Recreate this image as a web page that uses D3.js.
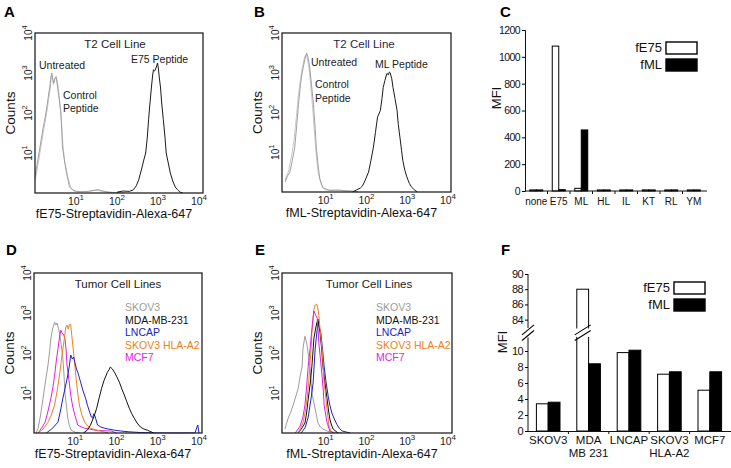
<!DOCTYPE html>
<html><head><meta charset="utf-8">
<script src="https://cdn.jsdelivr.net/npm/d3@7"></script>
<style>
body{margin:0;background:#fff}
svg{display:block}
text{font-family:Arial,"Liberation Sans",Helvetica,sans-serif}
</style>
</head><body>
<svg id="chart" width="731" height="468"></svg>
<script>
// ---------------- DATA ----------------
// Histogram axes are log decades: values are [log10 intensity, log10 counts]
const decadeTicks = [1, 2, 3, 4];

// Panel A: T2 cells, fE75 staining
const aUntreated = [[0,0.4],[0.07,0.83],[0.13,1.2],[0.19,1.58],[0.25,1.9],[0.29,2.15],[0.33,2.45],[0.36,2.65],[0.39,2.9],[0.41,3.0],[0.43,2.85],[0.46,2.75],[0.49,2.88],[0.51,2.9],[0.53,2.8],[0.55,2.65],[0.59,2.35],[0.63,2.0],[0.65,1.6],[0.67,1.15],[0.72,0.8],[0.77,0.5],[0.84,0.15],[0.95,0.05],[1.1,0.03],[1.3,0.04],[1.45,0.07],[1.55,0.08],[1.65,0.05],[1.8,0.02],[2.0,0.01],[2.2,0]];
const aControl = [[0,0.3],[0.08,0.75],[0.2,1.5],[0.3,2.1],[0.37,2.6],[0.4,2.95],[0.42,2.9],[0.45,2.7],[0.48,2.85],[0.52,2.92],[0.56,2.7],[0.6,2.3],[0.64,1.9],[0.68,1.2],[0.73,0.75],[0.8,0.4],[0.88,0.12],[1.0,0.04],[1.3,0.04],[1.5,0.07],[1.7,0.03],[2.0,0]];
const aE75 = [[2.0,0.02],[2.15,0.05],[2.3,0.04],[2.4,0.08],[2.47,0.18],[2.53,0.33],[2.6,0.6],[2.66,0.85],[2.7,1.0],[2.74,1.4],[2.77,1.83],[2.8,2.2],[2.84,2.65],[2.87,2.95],[2.89,3.08],[2.92,3.05],[2.96,3.15],[2.99,3.25],[3.01,3.1],[3.03,2.9],[3.06,2.65],[3.09,2.25],[3.13,1.83],[3.17,1.4],[3.2,1.0],[3.25,0.75],[3.3,0.5],[3.36,0.3],[3.42,0.15],[3.48,0.08],[3.54,0.02],[3.6,0]];

// Panel B: T2 cells, fML staining
const bUntreated = [[0,0.25],[0.06,0.4],[0.12,0.5],[0.18,0.8],[0.24,1.13],[0.29,1.7],[0.33,2.2],[0.38,2.7],[0.42,3.0],[0.46,3.2],[0.5,3.4],[0.53,3.5],[0.56,3.4],[0.6,3.2],[0.65,2.7],[0.7,2.2],[0.74,1.6],[0.77,1.1],[0.81,0.7],[0.85,0.35],[0.93,0.1],[1.1,0.04],[1.3,0.05],[1.5,0.03],[1.7,0.02],[1.8,0]];
const bControl = [[0,0.3],[0.08,0.5],[0.16,0.9],[0.22,1.3],[0.28,1.9],[0.33,2.45],[0.38,2.85],[0.43,3.15],[0.48,3.4],[0.52,3.45],[0.55,3.35],[0.59,3.1],[0.63,2.7],[0.68,2.1],[0.73,1.4],[0.77,0.9],[0.82,0.45],[0.9,0.15],[1.0,0.05],[1.3,0.04],[1.6,0.02],[1.8,0]];
const bML = [[1.66,0],[1.75,0.05],[1.85,0.1],[1.9,0.15],[1.97,0.3],[2.05,0.5],[2.11,0.8],[2.17,1.13],[2.22,1.5],[2.27,1.88],[2.34,2.05],[2.38,2.35],[2.41,2.63],[2.45,2.8],[2.5,2.98],[2.54,2.95],[2.56,3.02],[2.58,3.0],[2.62,2.85],[2.65,2.63],[2.7,2.35],[2.75,2.05],[2.78,1.7],[2.82,1.38],[2.86,1.05],[2.89,0.8],[2.94,0.55],[2.99,0.38],[3.05,0.22],[3.1,0.13],[3.18,0.05],[3.25,0]];

// Panel D: tumor cell lines, fE75
const dSKOV3 = [[0.05,0],[0.1,0.12],[0.16,0.45],[0.22,0.87],[0.28,1.3],[0.34,1.7],[0.38,2.05],[0.41,2.37],[0.45,2.6],[0.5,2.77],[0.53,2.7],[0.56,2.75],[0.59,2.62],[0.62,2.5],[0.66,2.2],[0.7,1.87],[0.73,1.4],[0.75,1.0],[0.79,0.65],[0.82,0.37],[0.86,0.18],[0.9,0.07],[1.0,0.02],[1.1,0]];
const dMCF7 = [[0.1,0],[0.18,0.12],[0.27,0.27],[0.34,0.55],[0.41,0.87],[0.46,1.15],[0.5,1.45],[0.54,1.8],[0.58,2.1],[0.62,2.4],[0.65,2.57],[0.68,2.5],[0.72,2.45],[0.75,2.37],[0.78,2.05],[0.8,1.7],[0.85,1.3],[0.89,0.95],[0.94,0.65],[0.99,0.45],[1.06,0.2],[1.15,0.15],[1.23,0.12],[1.35,0.1],[1.47,0.07],[1.6,0.06],[1.87,0.05],[2.0,0]];
const dSKOV3A2 = [[0.1,0],[0.22,0.1],[0.34,0.27],[0.42,0.45],[0.5,0.7],[0.56,1.05],[0.62,1.45],[0.66,1.8],[0.7,2.1],[0.74,2.4],[0.77,2.65],[0.8,2.7],[0.83,2.6],[0.86,2.72],[0.89,2.72],[0.91,2.5],[0.94,2.2],[0.98,1.8],[1.02,1.37],[1.06,1.0],[1.1,0.7],[1.16,0.45],[1.23,0.27],[1.3,0.18],[1.37,0.12],[1.5,0.08],[1.6,0.05],[1.8,0]];
const dLNCAP = [[0.3,0],[0.45,0.12],[0.58,0.27],[0.64,0.55],[0.7,0.87],[0.76,1.15],[0.82,1.45],[0.86,1.7],[0.89,1.95],[0.93,1.85],[0.96,1.9],[0.99,1.77],[1.03,1.6],[1.06,1.52],[1.1,1.38],[1.13,1.27],[1.19,1.05],[1.25,0.87],[1.3,0.68],[1.35,0.52],[1.39,0.4],[1.42,0.37],[1.45,0.48],[1.48,0.42],[1.54,0.2],[1.62,0.15],[1.71,0.12],[1.8,0.1],[1.95,0.07],[2.1,0.05],[2.3,0.03],[2.6,0.01],[3.0,0],[3.9,0],[3.97,0.2],[4,0]];
const dMDA = [[1.2,0],[1.3,0.08],[1.37,0.2],[1.45,0.4],[1.52,0.62],[1.58,0.88],[1.64,1.12],[1.7,1.32],[1.78,1.52],[1.82,1.58],[1.85,1.65],[1.9,1.6],[1.95,1.52],[2.0,1.42],[2.07,1.27],[2.13,1.1],[2.19,0.95],[2.25,0.78],[2.31,0.62],[2.37,0.48],[2.43,0.37],[2.5,0.25],[2.58,0.15],[2.66,0.1],[2.75,0.07],[2.9,0]];

// Panel E: tumor cell lines, fML
const eSKOV3 = [[0,0.1],[0.07,0.35],[0.14,0.52],[0.2,0.7],[0.26,0.9],[0.32,1.1],[0.37,1.4],[0.42,1.67],[0.44,2.1],[0.47,2.3],[0.49,2.42],[0.52,2.3],[0.54,2.2],[0.58,1.9],[0.61,1.67],[0.64,1.3],[0.66,1.0],[0.7,0.8],[0.74,0.6],[0.78,0.4],[0.81,0.25],[0.87,0.15],[0.93,0.1],[1.05,0.04],[1.2,0.02],[1.4,0]];
const eSKOV3A2 = [[0.32,0],[0.44,0.25],[0.5,0.55],[0.54,0.85],[0.58,1.25],[0.61,1.67],[0.64,2.1],[0.66,2.5],[0.69,2.85],[0.71,3.1],[0.74,3.2],[0.78,3.22],[0.81,3.1],[0.83,2.93],[0.87,2.5],[0.91,2.1],[0.94,1.65],[0.96,1.25],[1.0,0.9],[1.03,0.6],[1.06,0.35],[1.08,0.17],[1.15,0]];
const eMCF7 = [[0.25,0],[0.37,0.17],[0.44,0.4],[0.49,0.7],[0.53,1.15],[0.57,1.67],[0.62,2.15],[0.66,2.6],[0.69,2.9],[0.71,3.05],[0.75,2.95],[0.79,2.87],[0.81,2.6],[0.83,2.25],[0.87,1.85],[0.91,1.42],[0.94,1.05],[0.96,0.7],[1.0,0.45],[1.03,0.27],[1.1,0.05],[1.2,0]];
const eMDA = [[0.32,0],[0.4,0.1],[0.49,0.25],[0.53,0.5],[0.57,0.85],[0.62,1.25],[0.66,1.67],[0.71,2.37],[0.75,2.6],[0.78,2.75],[0.81,2.85],[0.83,2.7],[0.86,2.5],[0.9,2.1],[0.93,1.67],[0.98,1.25],[1.03,0.87],[1.07,0.55],[1.1,0.35],[1.14,0.2],[1.18,0.1],[1.3,0]];
const eLNCAP = [[0.4,0],[0.5,0.15],[0.57,0.4],[0.63,0.8],[0.69,1.25],[0.74,2.1],[0.78,2.5],[0.81,2.75],[0.84,2.65],[0.88,2.5],[0.92,2.1],[0.96,1.67],[1.01,1.25],[1.06,0.92],[1.1,0.7],[1.15,0.5],[1.21,0.35],[1.27,0.22],[1.33,0.12],[1.4,0.05],[1.6,0]];

// Panel C: MFI of T2 cells pulsed with peptides
const cCategories = ["none","E75","ML","HL","IL","KT","RL","YM"];
const cFE75 = [8, 1080, 20, 8, 8, 8, 8, 8];
const cFML  = [8, 10, 455, 8, 8, 8, 8, 8];
const cTicks = [0, 200, 400, 600, 800, 1000, 1200];

// Panel F: MFI of tumor cell lines (broken axis)
const fCategories = [["SKOV3"],["MDA","MB 231"],["LNCAP"],["SKOV3","HLA-A2"],["MCF7"]];
const fFE75 = [3.4, 88, 9.8, 7.1, 5.1];
const fFML  = [3.6, 8.4, 10.1, 7.4, 7.4];
const fLowTicks = [0, 2, 4, 6, 8, 10];
const fHighTicks = [84, 86, 88, 90];

const cellLegend = [
  {name:"SKOV3", color:"#9c9c9c"},
  {name:"MDA-MB-231", color:"#111111"},
  {name:"LNCAP", color:"#2020c8"},
  {name:"SKOV3 HLA-A2", color:"#f07f22"},
  {name:"MCF7", color:"#e21ee2"}
];

// ---------------- DRAWING ----------------
const svg = d3.select("#chart");

function letter(t, x, y) {
  svg.append("text").attr("x", x).attr("y", y).attr("font-size", 15)
    .attr("font-weight", "bold").text(t);
}

let clipId = 0;
function histPanel(cfg) {
  const g = svg.append("g");
  const x = d3.scaleLinear().domain([0, 4]).range([cfg.xr0, cfg.xr1]);
  const y = d3.scaleLinear().domain([0, 4]).range([cfg.y1, cfg.y0]);
  const id = "clip" + (clipId++);
  svg.append("clipPath").attr("id", id).append("rect")
    .attr("x", cfg.x0).attr("y", cfg.y0).attr("width", cfg.x1 - cfg.x0).attr("height", cfg.y1 - cfg.y0 + 0.5);
  const line = d3.line().x(d => x(d[0])).y(d => y(d[1]));
  const cg = g.append("g").attr("clip-path", `url(#${id})`);
  cfg.series.forEach(s => {
    cg.append("path").attr("d", line(s.data)).attr("fill", "none")
      .attr("stroke", s.color).attr("stroke-width", s.w || 1).attr("stroke-linejoin", "round");
  });
  g.append("rect").attr("x", cfg.x0).attr("y", cfg.y0)
    .attr("width", cfg.x1 - cfg.x0).attr("height", cfg.y1 - cfg.y0)
    .attr("fill", "none").attr("stroke", "#111").attr("stroke-width", 1.2);
  decadeTicks.forEach(d => {
    const t = g.append("text").attr("x", x(d)).attr("y", cfg.y1 + 12)
      .attr("text-anchor", "middle").attr("font-size", 10.5).attr("fill", "#222");
    t.append("tspan").text("10");
    t.append("tspan").attr("dy", -5).attr("font-size", 8).text(d);
  });
  decadeTicks.forEach(d => {
    const t = g.append("text").attr("transform", `translate(${cfg.x0 - 3},${y(d)}) rotate(-90)`)
      .attr("text-anchor", "middle").attr("font-size", 10).attr("fill", "#222");
    t.append("tspan").text("10");
    t.append("tspan").attr("dy", -5).attr("font-size", 7.5).text(d);
  });
  g.append("text").attr("transform", `translate(${cfg.countsX},${(cfg.y0 + cfg.y1) / 2}) rotate(-90)`)
    .attr("text-anchor", "middle").attr("font-size", 13.5).attr("fill", "#111").text("Counts");
  g.append("text").attr("x", (cfg.x0 + cfg.x1) / 2 - 5).attr("y", cfg.y1 + 25)
    .attr("text-anchor", "middle").attr("font-size", 12.5).attr("fill", "#111").text(cfg.xTitle);
  cfg.texts.forEach(t => {
    g.append("text").attr("x", t.x).attr("y", t.y).attr("font-size", t.size || 10.5)
      .attr("text-anchor", t.anchor || "start").attr("fill", t.color || "#222").text(t.text);
  });
  return {x, y};
}

// Panel A
letter("A", 4, 17);
histPanel({
  x0: 35, x1: 203, y0: 33, y1: 193, xr0: 35, xr1: 199, countsX: 15,
  xTitle: "fE75-Streptavidin-Alexa-647",
  series: [
    {data: aControl, color: "#c8c8c8"},
    {data: aUntreated, color: "#a0a0a0"},
    {data: aE75, color: "#1a1a1a"}
  ],
  texts: [
    {text: "T2 Cell Line", x: 115, y: 48, anchor: "middle", size: 11.5},
    {text: "Untreated", x: 39, y: 69},
    {text: "Control", x: 63, y: 99},
    {text: "Peptide", x: 63, y: 112},
    {text: "E75 Peptide", x: 131, y: 63}
  ]
});

// Panel B
letter("B", 254, 17);
histPanel({
  x0: 282, x1: 451, y0: 33, y1: 192, xr0: 285, xr1: 448, countsX: 262,
  xTitle: "fML-Streptavidin-Alexa-647",
  series: [
    {data: bControl, color: "#c8c8c8"},
    {data: bUntreated, color: "#a0a0a0"},
    {data: bML, color: "#1a1a1a"}
  ],
  texts: [
    {text: "T2 Cell Line", x: 364, y: 48, anchor: "middle", size: 11.5, color: "#1f1f4f"},
    {text: "Untreated", x: 311, y: 66},
    {text: "Control", x: 315, y: 88},
    {text: "Peptide", x: 315, y: 102},
    {text: "ML Peptide", x: 375, y: 68}
  ]
});

// Panel D
letter("D", 6, 255);
histPanel({
  x0: 34, x1: 202, y0: 273, y1: 433, xr0: 34, xr1: 199, countsX: 14,
  xTitle: "fE75-Streptavidin-Alexa-647",
  series: [
    {data: dSKOV3, color: cellLegend[0].color},
    {data: dMCF7, color: cellLegend[4].color},
    {data: dSKOV3A2, color: cellLegend[3].color},
    {data: dLNCAP, color: cellLegend[2].color},
    {data: dMDA, color: cellLegend[1].color}
  ],
  texts: [{text: "Tumor Cell Lines", x: 118, y: 288, anchor: "middle", size: 11.5}]
    .concat(cellLegend.map((c, i) => ({text: c.name, x: 125, y: 311 + i * 12.6, color: c.color, size: 10.5})))
});

// Panel E
letter("E", 255, 255);
histPanel({
  x0: 282, x1: 452, y0: 273, y1: 433, xr0: 285, xr1: 448, countsX: 262,
  xTitle: "fML-Streptavidin-Alexa-647",
  series: [
    {data: eSKOV3, color: cellLegend[0].color},
    {data: eLNCAP, color: cellLegend[2].color},
    {data: eMDA, color: cellLegend[1].color},
    {data: eSKOV3A2, color: cellLegend[3].color},
    {data: eMCF7, color: cellLegend[4].color}
  ],
  texts: [{text: "Tumor Cell Lines", x: 369, y: 288, anchor: "middle", size: 11.5}]
    .concat(cellLegend.map((c, i) => ({text: c.name, x: 376, y: 311 + i * 12.6, color: c.color, size: 10.5})))
});

function barLegend(x, y) {
  const items = [{t: "fE75", fill: "#fff"}, {t: "fML", fill: "#000"}];
  items.forEach((it, i) => {
    svg.append("text").attr("x", x - 4).attr("y", y + i * 17 + 10).attr("text-anchor", "end")
      .attr("font-size", 13).attr("fill", "#111").text(it.t);
    svg.append("rect").attr("x", x).attr("y", y + i * 17).attr("width", 31).attr("height", 12)
      .attr("fill", it.fill).attr("stroke", "#000").attr("stroke-width", 1.4);
  });
}

// Panel C
letter("C", 500, 17);
(function() {
  const g = svg.append("g");
  const x = d3.scaleBand().domain(cCategories).range([525, 705]).padding(0);
  const y = d3.scaleLinear().domain([0, 1200]).range([191, 30]);
  const bw = 6.5;
  cCategories.forEach((c, i) => {
    const cx = x(c) + x.bandwidth() / 2;
    g.append("rect").attr("x", cx - bw).attr("y", y(cFE75[i])).attr("width", bw)
      .attr("height", y(0) - y(cFE75[i])).attr("fill", "#fff").attr("stroke", "#000").attr("stroke-width", 1);
    g.append("rect").attr("x", cx).attr("y", y(cFML[i])).attr("width", bw)
      .attr("height", y(0) - y(cFML[i])).attr("fill", "#000").attr("stroke", "#000").attr("stroke-width", 1);
  });
  const ya = g.append("g").attr("transform", "translate(525,0)")
    .call(d3.axisLeft(y).tickValues(cTicks).tickFormat(d3.format("d")).tickSize(3).tickPadding(2));
  ya.select(".domain").attr("stroke", "#111");
  ya.selectAll("text").attr("font-size", 10.5).attr("fill", "#111").attr("letter-spacing", -0.6)
    .attr("font-family", "Arial, 'Liberation Sans', sans-serif");
  const xa = g.append("g").attr("transform", "translate(0,191)")
    .call(d3.axisBottom(x).tickSize(0).tickPadding(7));
  xa.select(".domain").attr("stroke", "#111").attr("d", "M525,0H707");
  xa.selectAll("text").attr("font-size", 10).attr("fill", "#111").attr("font-family", "Arial, 'Liberation Sans', sans-serif");
  cCategories.slice(1).forEach(c => {
    g.append("line").attr("x1", x(c)).attr("x2", x(c)).attr("y1", 191).attr("y2", 194).attr("stroke", "#111");
  });
  g.append("text").attr("transform", "translate(501,98) rotate(-90)").attr("text-anchor", "middle")
    .attr("font-size", 13).attr("fill", "#111").text("MFI");
  barLegend(666, 42);
})();

// Panel F (broken y axis)
letter("F", 501, 255);
(function() {
  const g = svg.append("g");
  const x = d3.scaleBand().domain(fCategories.map(d => d.join(" "))).range([528, 730]).padding(0);
  const yLow = d3.scaleLinear().domain([0, 11.7]).range([431, 337.4]);
  const yHigh = d3.scaleLinear().domain([82.9, 90]).range([328, 274]);
  const bw = 11.8;
  const lowMax = yLow.domain()[1], highMin = yHigh.domain()[0];
  function drawBar(x0, v, fill) {
    if (v <= lowMax) {
      g.append("rect").attr("x", x0).attr("y", yLow(v)).attr("width", bw).attr("height", yLow(0) - yLow(v))
        .attr("fill", fill).attr("stroke", "#000").attr("stroke-width", 1);
    } else {
      g.append("rect").attr("x", x0).attr("y", yLow(lowMax)).attr("width", bw).attr("height", yLow(0) - yLow(lowMax))
        .attr("fill", fill).attr("stroke", "#000").attr("stroke-width", 1);
      g.append("rect").attr("x", x0).attr("y", yHigh(v)).attr("width", bw).attr("height", yHigh(highMin) - yHigh(v))
        .attr("fill", fill).attr("stroke", "#000").attr("stroke-width", 1);
      g.append("rect").attr("x", x0 + 0.5).attr("y", yHigh(highMin) - 1).attr("width", bw - 1)
        .attr("height", yLow(lowMax) - yHigh(highMin) + 2).attr("fill", fill);
      breakMark(x0 + bw / 2, 8);
    }
  }
  function breakMark(cx, half) {
    const ym = (yHigh(highMin) + yLow(lowMax)) / 2;
    [-2.8, 2.8].forEach(off => {
      g.append("line").attr("x1", cx - half).attr("y1", ym + off + 5)
        .attr("x2", cx + half).attr("y2", ym + off - 5).attr("stroke", "#000").attr("stroke-width", 1.1);
    });
  }
  fCategories.forEach((c, i) => {
    const cx = x(c.join(" ")) + x.bandwidth() / 2;
    drawBar(cx - bw, fFE75[i], "#fff");
    drawBar(cx, fFML[i], "#000");
  });
  const yaL = g.append("g").attr("transform", "translate(528,0)")
    .call(d3.axisLeft(yLow).tickValues(fLowTicks).tickSize(3).tickPadding(2));
  const yaH = g.append("g").attr("transform", "translate(528,0)")
    .call(d3.axisLeft(yHigh).tickValues(fHighTicks).tickSize(3).tickPadding(2));
  [yaL, yaH].forEach(a => {
    a.select(".domain").attr("stroke", "#111").attr("d", function() {
      const r = (a === yaL ? yLow : yHigh).range();
      return `M0,${r[0]}V${r[1]}`;
    });
    a.selectAll("text").attr("font-size", 11).attr("fill", "#111").attr("letter-spacing", -0.6)
      .attr("font-family", "Arial, 'Liberation Sans', sans-serif");
  });
  breakMark(528, 6);
  g.append("line").attr("x1", 528).attr("x2", 731).attr("y1", 431.5).attr("y2", 431.5).attr("stroke", "#111");
  x.domain().slice(1).forEach(c => {
    g.append("line").attr("x1", x(c)).attr("x2", x(c)).attr("y1", 431).attr("y2", 434).attr("stroke", "#111");
  });
  fCategories.forEach(c => {
    const cx = x(c.join(" ")) + x.bandwidth() / 2;
    c.forEach((ln, j) => {
      g.append("text").attr("x", cx).attr("y", 444 + j * 13).attr("text-anchor", "middle")
        .attr("font-size", 11.5).attr("fill", "#111").text(ln);
    });
  });
  g.append("text").attr("transform", "translate(507,342) rotate(-90)").attr("text-anchor", "middle")
    .attr("font-size", 13).attr("fill", "#111").text("MFI");
  barLegend(674, 282);
})();
</script>
</body></html>
